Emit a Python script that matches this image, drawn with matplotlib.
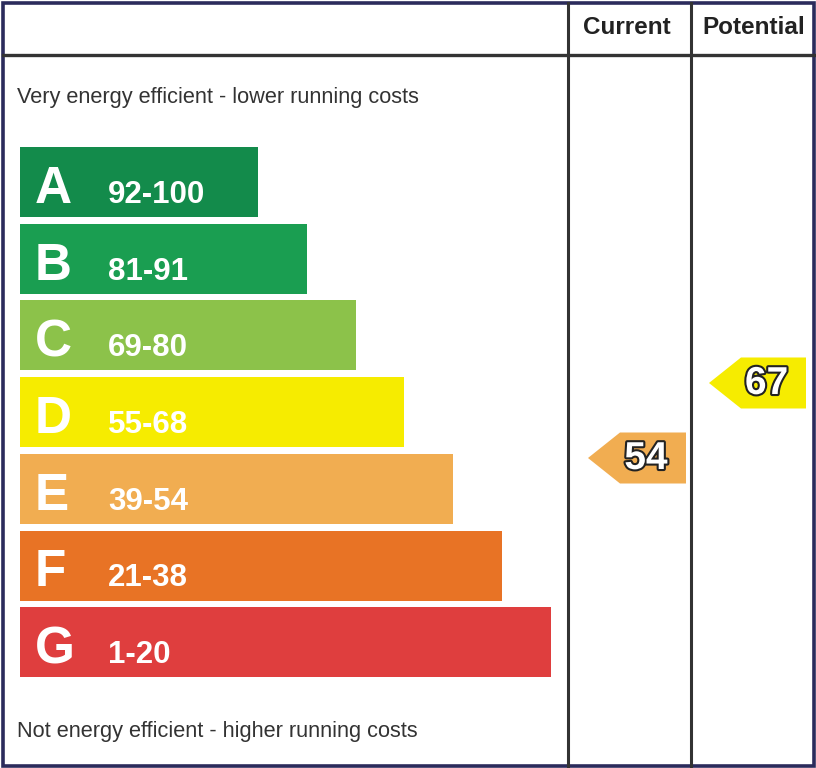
import matplotlib
matplotlib.use("Agg")
import matplotlib.pyplot as plt
from matplotlib.patches import Rectangle, Polygon
import matplotlib.patheffects as pe

letters = ["A", "B", "C", "D", "E", "F", "G"]
ranges = ["92-100", "81-91", "69-80", "55-68", "39-54", "21-38", "1-20"]
colors = ["#138b4b", "#1a9e51", "#8cc24a", "#f6ec00", "#f1ad51", "#e87325", "#df3e3e"]
current = 54
potential = 67
current_color = "#f1ad51"
potential_color = "#f6ec00"

plt.rcParams['font.family'] = ['Liberation Sans', 'DejaVu Sans']

fig = plt.figure(figsize=(8.16, 7.68), dpi=100)
ax = fig.add_axes([0, 0, 1, 1])
ax.set_xlim(0, 816)
ax.set_ylim(768, 0)
ax.axis("off")

line_c = "#333333"
# frame and grid lines
ax.add_patch(Rectangle((2.5, 2.5), 811, 763, fill=False, edgecolor="#2b2b5c", lw=2.6))
ax.plot([2.5, 813.5], [55, 55], color=line_c, lw=2.4)
ax.plot([568, 568], [2.5, 765.5], color=line_c, lw=2.2)
ax.plot([691, 691], [2.5, 765.5], color=line_c, lw=2.2)

ax.text(627, 28, "Current", ha="center", va="center", fontsize=17.5,
        fontweight="bold", color="#222222")
ax.text(754, 28, "Potential", ha="center", va="center", fontsize=17.5,
        fontweight="bold", color="#222222")

ax.text(17, 97, "Very energy efficient - lower running costs", ha="left",
        va="center", fontsize=15.7, color="#333333")
ax.text(17, 732, "Not energy efficient - higher running costs", ha="left",
        va="center", fontsize=15.7, color="#333333")

# bands
top0, step, h = 147, 76.7, 70
for i, (lt, rg, c) in enumerate(zip(letters, ranges, colors)):
    y = top0 + i * step
    w = 238 + i * 48.8
    ax.add_patch(Rectangle((20, y), w, h, facecolor=c, edgecolor="none"))
    ax.text(35, y + 56, lt, ha="left", va="baseline", fontsize=37,
            fontweight="bold", color="white")
    ax.text(108, y + 56, rg, ha="left", va="baseline", fontsize=22.5,
            fontweight="bold", color="white")


def value_y(v):
    return 458 - (v - 54) * 5.77


def arrow(x0, x1, v, c):
    yc = value_y(v)
    hh = 25.5
    pts = [(x0, yc), (x0 + 32, yc - hh), (x1, yc - hh), (x1, yc + hh), (x0 + 32, yc + hh)]
    ax.add_patch(Polygon(pts, closed=True, facecolor=c, edgecolor="none"))
    t = ax.text((x0 + 32 + x1) / 2 - 7, yc + 1, str(v), ha="center", va="center",
                fontsize=28, fontweight="bold", color="white")
    t.set_path_effects([pe.withStroke(linewidth=3, foreground="#222222")])


arrow(588, 686, current, current_color)
arrow(709, 806, potential, potential_color)

fig.savefig("out.png", dpi=100)
